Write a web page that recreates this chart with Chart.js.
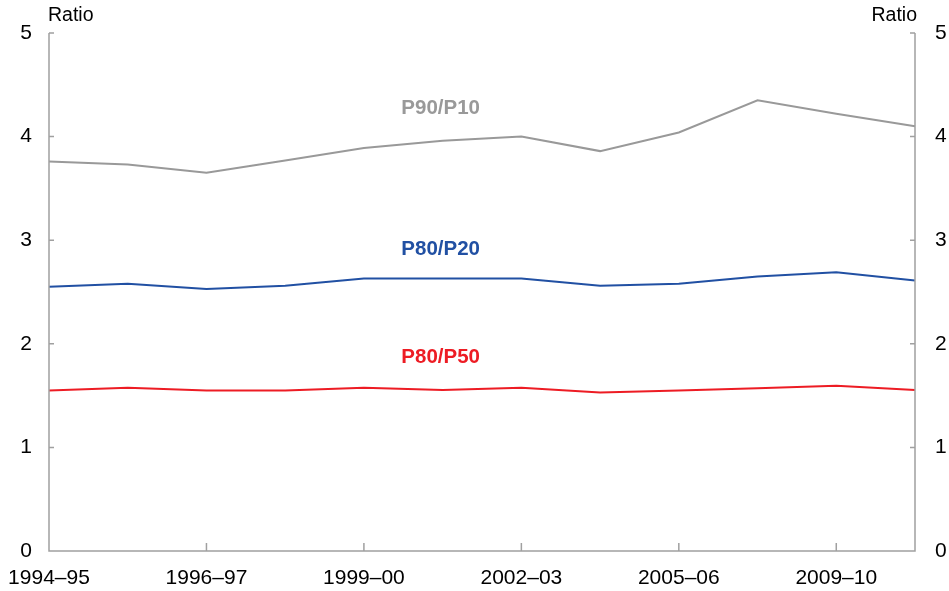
<!DOCTYPE html>
<html>
<head>
<meta charset="utf-8">
<script src="https://cdn.jsdelivr.net/npm/chart.js@4/dist/chart.umd.min.js"></script>
<style>
  html, body { margin: 0; padding: 0; background: #fff; }
  canvas { display: block; }
</style>
</head>
<body>
<canvas id="ratioChart" width="949" height="591"></canvas>
<script>
// Survey years (every second one is labelled on the axis)
const years = ['1994–95', '1995–96', '1996–97', '1997–98', '1999–00', '2000–01',
               '2002–03', '2003–04', '2005–06', '2007–08', '2009–10', '2011–12'];

// Income percentile ratios
const p90p10 = [3.76, 3.73, 3.65, 3.77, 3.89, 3.96, 4.00, 3.86, 4.04, 4.35, 4.22, 4.10];
const p80p20 = [2.55, 2.58, 2.53, 2.56, 2.63, 2.63, 2.63, 2.56, 2.58, 2.65, 2.69, 2.61];
const p80p50 = [1.55, 1.575, 1.55, 1.55, 1.575, 1.555, 1.575, 1.53, 1.55, 1.57, 1.595, 1.555];

const yTicks = [0, 1, 2, 3, 4, 5];

const GREY = '#999999';
const BLUE = '#2150a3';
const RED = '#ed1c24';
const AXIS = '#a0a0a0';
const FONT = 'Arial, "Liberation Sans", sans-serif';

// Series name labels, placed on the chart next to their lines
const seriesLabels = [
  { text: 'P90/P10', color: GREY, at: 5, value: 4.27 },
  { text: 'P80/P20', color: BLUE, at: 5, value: 2.91 },
  { text: 'P80/P50', color: RED, at: 5, value: 1.87 }
];

// Draws axis lines, inward tick marks, the "Ratio" units and series labels
const decorations = {
  id: 'decorations',
  afterDraw(chart) {
    const { ctx, chartArea: a, scales } = chart;
    const x = scales.x, y = scales.y;
    ctx.save();
    ctx.strokeStyle = AXIS;
    ctx.lineWidth = 1.5;
    ctx.beginPath();
    ctx.moveTo(a.left, a.top);
    ctx.lineTo(a.left, a.bottom);
    ctx.lineTo(a.right, a.bottom);
    ctx.lineTo(a.right, a.top);
    // y ticks on both sides, pointing inward
    yTicks.forEach(v => {
      const py = y.getPixelForValue(v);
      ctx.moveTo(a.left, py);
      ctx.lineTo(a.left + 5, py);
      ctx.moveTo(a.right, py);
      ctx.lineTo(a.right - 5, py);
    });
    // x ticks at the labelled years, pointing up
    years.forEach((yr, i) => {
      if (i % 2 === 0 && i > 0) {
        const px = x.getPixelForValue(i);
        ctx.moveTo(px, a.bottom);
        ctx.lineTo(px, a.bottom - 8);
      }
    });
    ctx.stroke();

    ctx.fillStyle = '#000';
    ctx.font = '19.5px ' + FONT;
    ctx.textBaseline = 'middle';
    ctx.textAlign = 'left';
    ctx.fillText('Ratio', a.left - 1, 16);
    ctx.textAlign = 'right';
    ctx.fillText('Ratio', a.right + 2, 16);

    ctx.font = 'bold 20.5px ' + FONT;
    ctx.textAlign = 'center';
    seriesLabels.forEach(l => {
      ctx.fillStyle = l.color;
      ctx.fillText(l.text, x.getPixelForValue(l.at) - 2, y.getPixelForValue(l.value));
    });
    ctx.restore();
  }
};

function makeLine(label, data, color) {
  return {
    label: label,
    data: data,
    borderColor: color,
    backgroundColor: color,
    borderWidth: 2,
    pointRadius: 0,
    tension: 0,
    fill: false
  };
}

const ctx = document.getElementById('ratioChart').getContext('2d');

new Chart(ctx, {
  type: 'line',
  data: {
    labels: years,
    datasets: [
      makeLine('P90/P10', p90p10, GREY),
      makeLine('P80/P20', p80p20, BLUE),
      makeLine('P80/P50', p80p50, RED)
    ]
  },
  options: {
    responsive: false,
    animation: false,
    layout: { padding: { top: 33, left: 0, right: 0, bottom: 0 } },
    plugins: {
      legend: { display: false },
      tooltip: { enabled: false }
    },
    scales: {
      x: {
        type: 'category',
        offset: false,
        grid: { display: false, drawTicks: false },
        border: { display: false },
        ticks: {
          autoSkip: false,
          maxRotation: 0,
          padding: 0,
          color: '#000',
          // tall line height pushes the labels down below the axis
          font: { family: FONT, size: 21, lineHeight: 2.55 },
          callback: function(value, index) {
            return index % 2 === 0 && index < years.length - 1 ? years[index] : '';
          }
        },
        afterFit(scale) { scale.height = 40; }
      },
      y: {
        position: 'left',
        min: 0,
        max: 5,
        grid: { display: false, drawTicks: false },
        border: { display: false },
        ticks: {
          stepSize: 1,
          padding: 17,
          color: '#000',
          font: { family: FONT, size: 21 }
        },
        afterFit(scale) { scale.width = 49; }
      },
      y2: {
        position: 'right',
        min: 0,
        max: 5,
        grid: { display: false, drawTicks: false },
        border: { display: false },
        ticks: {
          stepSize: 1,
          padding: 20,
          color: '#000',
          font: { family: FONT, size: 21 }
        },
        afterFit(scale) { scale.width = 34; }
      }
    }
  },
  plugins: [decorations]
});
</script>
</body>
</html>
